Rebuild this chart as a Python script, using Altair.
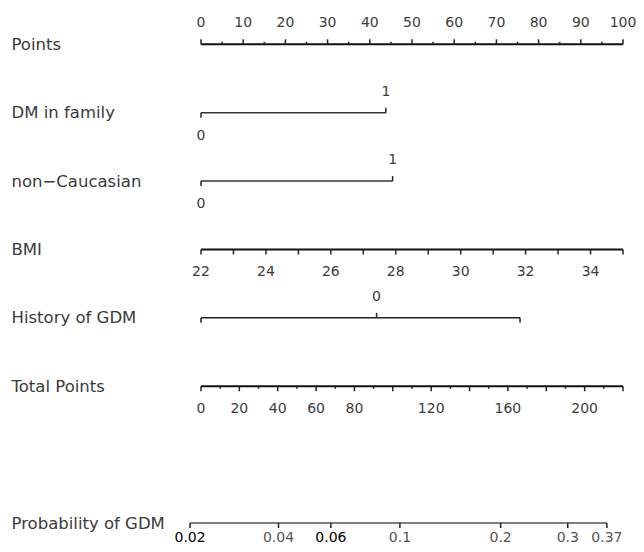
import altair as alt
import pandas as pd

# ---------------- data ----------------
row_names = ["Points", "DM in family", "non\u2212Caucasian", "BMI",
             "History of GDM", "Total Points", "Probability of GDM"]
row_index = [0, 1, 2, 3, 4, 5, 7]

points_major = list(range(0, 101, 10))
points_minor = list(range(5, 100, 10))

dm_levels = ["0", "1"]
dm_points = [0.0, 43.8]

race_levels = ["0", "1"]
race_points = [0.0, 45.4]

bmi_ticks = list(range(22, 36))
bmi_labels = [22, 24, 26, 28, 30, 32, 34]
bmi_range = (22, 35)          # BMI 22 -> 0 points, 35 -> 100 points

gdm_span = [0.0, 75.6]        # unlabeled ends of the History of GDM line
gdm_level = "0"
gdm_level_points = 41.6

total_major = list(range(0, 221, 20))
total_minor = list(range(10, 220, 20))
total_labels = [0, 20, 40, 60, 80, 120, 160, 200]
total_max = 220               # total points 220 -> 100 on the points scale

prob_labels = ["0.02", "0.04", "0.06", "0.1", "0.2", "0.3", "0.37"]
prob_total_points = [-5.7, 40.4, 67.7, 103.7, 156.2, 191.2, 211.6]
prob_dark = ["0.02", "0.06"]

# ---------------- build tables ----------------
def bmi_to_pts(v):
    return (v - bmi_range[0]) / (bmi_range[1] - bmi_range[0]) * 100

def tot_to_pts(v):
    return v * 100.0 / total_max

lines = pd.DataFrame([
    {"row": 0, "x": 0, "x2": 100, "w": 2.0, "c": "#111111"},
    {"row": 1, "x": dm_points[0], "x2": dm_points[1], "w": 1.5, "c": "#333333"},
    {"row": 2, "x": race_points[0], "x2": race_points[1], "w": 1.5, "c": "#333333"},
    {"row": 3, "x": bmi_to_pts(bmi_range[0]), "x2": bmi_to_pts(bmi_range[1]), "w": 2.0, "c": "#111111"},
    {"row": 4, "x": gdm_span[0], "x2": gdm_span[1], "w": 1.5, "c": "#222222"},
    {"row": 5, "x": 0, "x2": tot_to_pts(total_max), "w": 2.0, "c": "#111111"},
    {"row": 7, "x": tot_to_pts(prob_total_points[0]), "x2": tot_to_pts(prob_total_points[-1]), "w": 1.5, "c": "#555555"},
])

ticks = []
for v in points_major:
    ticks.append({"row": 0, "x": v, "kind": "up_major"})
for v in points_minor:
    ticks.append({"row": 0, "x": v, "kind": "up_minor"})
ticks.append({"row": 1, "x": dm_points[0], "kind": "down_major"})
ticks.append({"row": 1, "x": dm_points[1], "kind": "up_major"})
ticks.append({"row": 2, "x": race_points[0], "kind": "down_major"})
ticks.append({"row": 2, "x": race_points[1], "kind": "up_major"})
for v in bmi_ticks:
    ticks.append({"row": 3, "x": bmi_to_pts(v), "kind": "down_major"})
for v in gdm_span:
    ticks.append({"row": 4, "x": v, "kind": "down_major"})
ticks.append({"row": 4, "x": gdm_level_points, "kind": "up_major"})
for v in total_major:
    ticks.append({"row": 5, "x": tot_to_pts(v), "kind": "down_major"})
for v in total_minor:
    ticks.append({"row": 5, "x": tot_to_pts(v), "kind": "down_minor"})
for v in prob_total_points:
    ticks.append({"row": 7, "x": tot_to_pts(v), "kind": "down_major"})
ticks = pd.DataFrame(ticks)

labels = []
for v in points_major:
    labels.append({"row": 0, "x": v, "t": str(v), "pos": "above", "c": "#3c3c3c"})
labels.append({"row": 1, "x": dm_points[0], "t": dm_levels[0], "pos": "below", "c": "#3c3c3c"})
labels.append({"row": 1, "x": dm_points[1], "t": dm_levels[1], "pos": "above", "c": "#3c3c3c"})
labels.append({"row": 2, "x": race_points[0], "t": race_levels[0], "pos": "below", "c": "#3c3c3c"})
labels.append({"row": 2, "x": race_points[1], "t": race_levels[1], "pos": "above", "c": "#3c3c3c"})
for v in bmi_labels:
    labels.append({"row": 3, "x": bmi_to_pts(v), "t": str(v), "pos": "below", "c": "#3c3c3c"})
labels.append({"row": 4, "x": gdm_level_points, "t": gdm_level, "pos": "above", "c": "#3c3c3c"})
for v in total_labels:
    labels.append({"row": 5, "x": tot_to_pts(v), "t": str(v), "pos": "below", "c": "#3c3c3c"})
for v, t in zip(prob_total_points, prob_labels):
    labels.append({"row": 7, "x": tot_to_pts(v), "t": t, "pos": "bottom",
                   "c": "#000000" if t in prob_dark else "#555555"})
labels = pd.DataFrame(labels)

# ---------------- chart ----------------
FONT = "DejaVu Sans"
FS = 14

label_expr = ""
for i, n in zip(row_index, row_names):
    label_expr += f"datum.value == {i} ? '{n}' : "
label_expr += "''"

xs = alt.Scale(domain=[0, 100], nice=False, zero=False)
ys = alt.Scale(domain=[-0.531, 7.307], reverse=True, nice=False, zero=False)
y_axis = alt.Axis(
    values=row_index, labelExpr=label_expr, domain=False, ticks=False, tickSize=0,
    grid=False, labelAlign="left", labelPadding=190, labelFontSize=16.5,
    labelFont=FONT, labelColor="#3a3a3a", labelBaseline="middle", title=None,
    labelFontWeight="normal", labelOverlap=False, labelBound=False)

X = lambda f: alt.X(f, type="quantitative", scale=xs, axis=None)
Y = alt.Y("row:Q", scale=ys, axis=y_axis)

base_lines = alt.Chart(lines).mark_rule(strokeCap="butt").encode(
    x=X("x"), x2="x2", y=Y,
    strokeWidth=alt.StrokeWidth("w:Q", scale=None),
    color=alt.Color("c:N", scale=None))

tick_layers = []
for kind, y2o in [("up_major", -5), ("up_minor", -2.5), ("down_major", 5), ("down_minor", 2.5)]:
    tick_layers.append(
        alt.Chart(ticks).transform_filter(alt.datum.kind == kind)
        .mark_rule(y2Offset=y2o, strokeWidth=1.5, color="#222222")
        .encode(x=X("x"), y=Y, y2="row:Q"))

text_layers = []
for pos, dy in [("above", -21), ("below", 23), ("bottom", 15)]:
    text_layers.append(
        alt.Chart(labels).transform_filter(alt.datum.pos == pos)
        .mark_text(dy=dy, baseline="middle", align="center", font=FONT,
                   fontSize=FS)
        .encode(x=X("x"), y=Y, text="t:N", color=alt.Color("c:N", scale=None)))

chart = alt.layer(base_lines, *tick_layers, *text_layers).properties(
    width=422, height=536,
    autosize=alt.AutoSizeParams(type="none"),
    padding={"left": 193, "top": 0, "right": 13, "bottom": 0},
).configure_view(stroke=None)

chart.save("out.html", embed_options={"renderer": "svg", "actions": False})
